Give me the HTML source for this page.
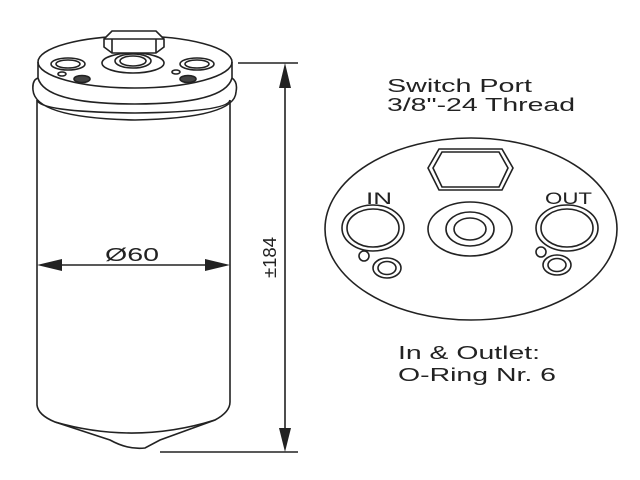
<!DOCTYPE html>
<html><head><style>body{margin:0;background:#fff}svg{display:block}</style></head>
<body>
<svg width="640" height="480" viewBox="0 0 640 480" xmlns="http://www.w3.org/2000/svg" font-family="Liberation Sans, sans-serif">
<g fill="none" stroke="#222" stroke-width="1.6">
<!-- body -->
<path d="M37 100 L37 405 Q38 415 55 422 L110 440 Q128 450 145 448 L160 440 L215 420 Q230 412 230 402 L230 100"/>
<path d="M55 422 Q135 445 215 420"/>
<!-- lower band -->
<path d="M33 90 Q32 80 38 78 M232 78 Q238 82 236 92"/>
<path d="M33 90 Q35 118 135 120 Q235 118 236 92"/>
<path d="M37 100 Q40 112 135 113 Q228 112 230 100"/>
<!-- cap -->
<ellipse cx="135" cy="62" rx="97" ry="26"/>
<path d="M38 62 L38 78 Q45 104 135 104 Q225 104 232 78 L232 62"/>
<!-- collar + nut -->
<ellipse cx="133" cy="63" rx="31" ry="10"/>
<ellipse cx="133" cy="61" rx="18" ry="7"/>
<ellipse cx="133" cy="61" rx="13" ry="5"/>
<path d="M104 39 L112 31 L156 31 L164 39 L164 47 L156 53 L112 53 L104 47 Z" fill="#fff"/>
<path d="M104 39 L164 39 M112 39 L112 53 M156 39 L156 53"/>
<ellipse cx="68" cy="64" rx="17" ry="6"/><ellipse cx="68" cy="64" rx="12" ry="4"/>
<ellipse cx="197" cy="64" rx="17" ry="6"/><ellipse cx="197" cy="64" rx="12" ry="4"/>
<ellipse cx="62" cy="74" rx="4" ry="2"/><ellipse cx="82" cy="79" rx="8" ry="3.5" fill="#444"/>
<ellipse cx="176" cy="72" rx="4" ry="2"/><ellipse cx="188" cy="79" rx="8" ry="3.5" fill="#444"/>
<!-- dims -->
<path d="M238 63 L298 63 M160 452 L298 452 M285 75 L285 440 M50 265 L217 265"/>
<!-- right view -->
<ellipse cx="471" cy="229" rx="146" ry="91"/>
<path d="M428 168 L439 149 L502 149 L513 168 L502 190 L439 190 Z"/>
<path d="M433 168 L442 152 L499 152 L508 168 L499 187 L442 187 Z"/>
<ellipse cx="470" cy="229" rx="42" ry="27"/>
<ellipse cx="470" cy="229" rx="24" ry="17"/>
<ellipse cx="470" cy="229" rx="16" ry="11"/>
<ellipse cx="373" cy="228" rx="31" ry="23"/><ellipse cx="373" cy="228" rx="26" ry="19"/>
<ellipse cx="567" cy="228" rx="31" ry="23"/><ellipse cx="567" cy="228" rx="26" ry="19"/>
<circle cx="364" cy="256" r="5"/>
<ellipse cx="387" cy="268" rx="14" ry="10"/><ellipse cx="387" cy="268" rx="9" ry="6.5"/>
<circle cx="541" cy="252" r="5"/>
<ellipse cx="557" cy="265" rx="14" ry="10"/><ellipse cx="557" cy="265" rx="9" ry="6.5"/>
</g>
<g fill="#222">
<path d="M279 88 L285 63 L291 88 Z"/>
<path d="M279 428 L285 452 L291 428 Z"/>
<path d="M37 265 L62 259 L62 271 Z"/>
<path d="M230 265 L205 259 L205 271 Z"/>
</g>
<g fill="#222" font-size="18.5">
<text x="105" y="261" textLength="54" lengthAdjust="spacingAndGlyphs">Ø60</text>
<text transform="translate(276 278) rotate(-90)" textLength="41" lengthAdjust="spacingAndGlyphs">±184</text>
<text x="387" y="92" textLength="145" lengthAdjust="spacingAndGlyphs">Switch Port</text>
<text x="387" y="111" textLength="188" lengthAdjust="spacingAndGlyphs">3/8"-24 Thread</text>
<text x="366" y="204" font-size="17" textLength="26" lengthAdjust="spacingAndGlyphs">IN</text>
<text x="545" y="204" font-size="17" textLength="47" lengthAdjust="spacingAndGlyphs">OUT</text>
<text x="398" y="359" textLength="142" lengthAdjust="spacingAndGlyphs">In &amp; Outlet:</text>
<text x="398" y="381" textLength="158" lengthAdjust="spacingAndGlyphs">O-Ring Nr. 6</text>
</g>
</svg>
</body></html>
